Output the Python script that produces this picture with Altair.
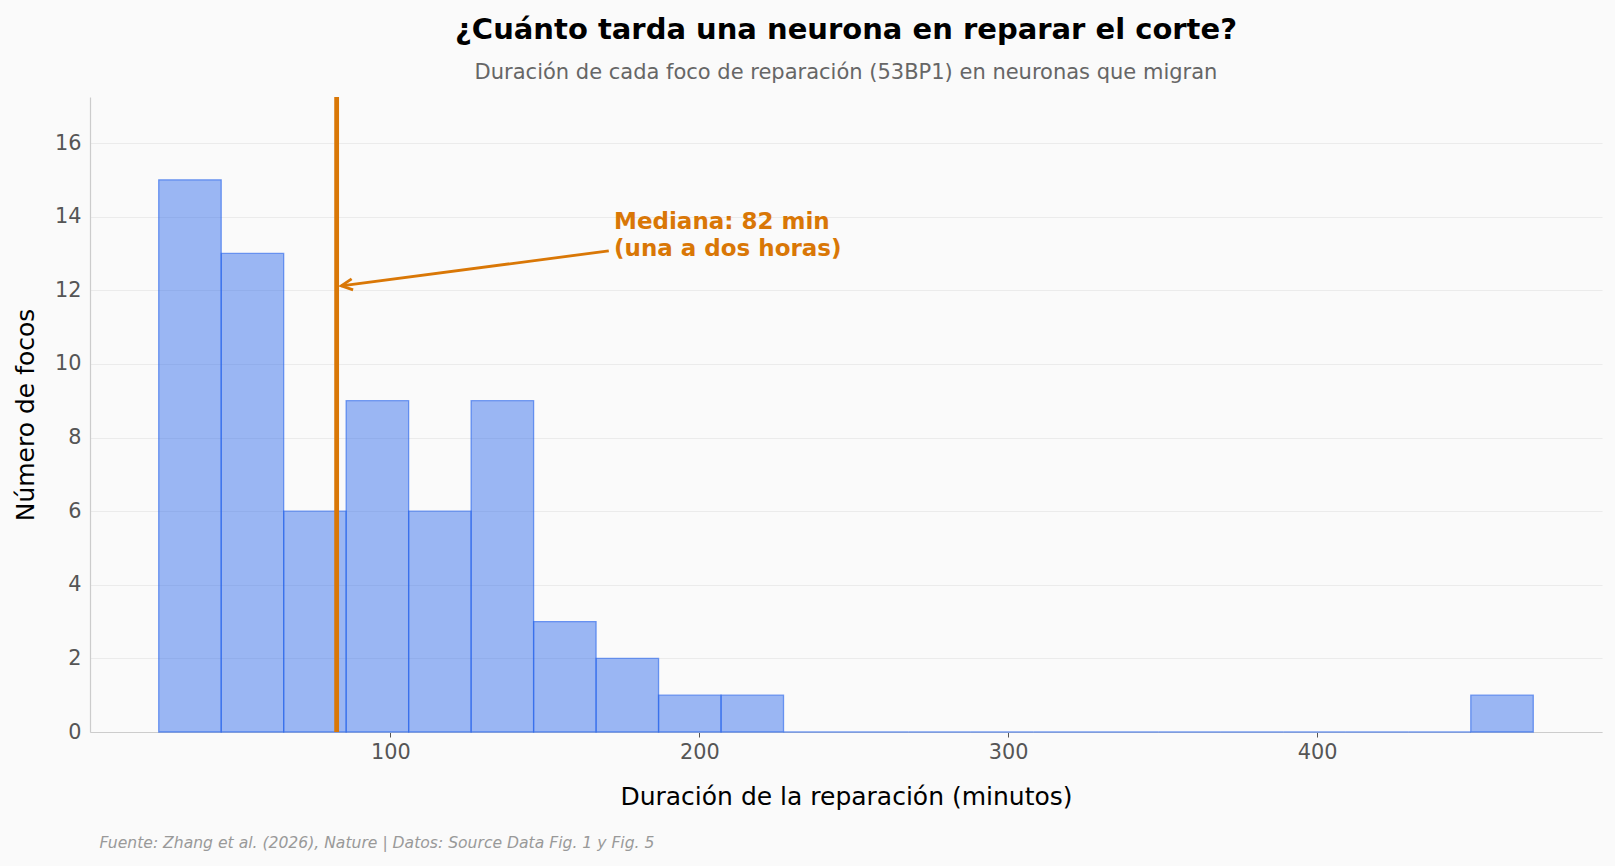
import altair as alt
import pandas as pd

# ---- data ----
bin_lo = 25.0
bin_hi = 470.0
n_bins = 22
counts = [15, 13, 6, 9, 6, 9, 3, 2, 1, 1, 0, 0, 0, 0, 0, 0, 0, 0, 0, 0, 0, 1]
median_value = 82.6
median_label = ["Mediana: 82 min", "(una a dos horas)"]
arrow_start = (170.7, 13.07)
arrow_tip = (84.1, 12.12)
label_pos = (172.4, 13.85)
x_ticks = [100, 200, 300, 400]
y_ticks = [0, 2, 4, 6, 8, 10, 12, 14, 16]
x_domain = [2.75, 492.25]
y_domain = [0, 17.25]

width_bin = (bin_hi - bin_lo) / n_bins
bars = pd.DataFrame({
    "start": [bin_lo + i * width_bin for i in range(n_bins)],
    "end": [bin_lo + (i + 1) * width_bin for i in range(n_bins)],
    "count": counts,
    "zero": [0] * n_bins,
})

FONT = "DejaVu Sans"
ORANGE = "#D97706"
BLUE = "#2563EB"

xs = alt.Scale(domain=x_domain, nice=False, zero=False)
ys = alt.Scale(domain=y_domain, nice=False)

base_bars = alt.Chart(bars).mark_rect(
    fill=BLUE, fillOpacity=0.45, stroke=BLUE, strokeOpacity=0.6, strokeWidth=1.3
).encode(
    x=alt.X("start:Q", scale=xs,
            axis=alt.Axis(values=x_ticks, title="Duración de la reparación (minutos)",
                          grid=False, tickSize=5, tickColor="#555555", labelPadding=5,
                          titlePadding=23)),
    x2="end:Q",
    y=alt.Y("count:Q", scale=ys,
            axis=alt.Axis(values=y_ticks, title="Número de focos", grid=True,
                          ticks=False, labelPadding=9, titlePadding=16)),
    y2="zero:Q",
)

med = alt.Chart(pd.DataFrame({"m": [median_value]})).mark_rule(
    color=ORANGE, strokeWidth=4.8
).encode(x=alt.X("m:Q", scale=xs))

arrow_df = pd.DataFrame({
    "x": [arrow_start[0]], "y": [arrow_start[1]],
    "x2": [arrow_tip[0]], "y2": [arrow_tip[1]],
})
arrow_line = alt.Chart(arrow_df).mark_rule(color=ORANGE, strokeWidth=2.8).encode(
    x=alt.X("x:Q", scale=xs), y=alt.Y("y:Q", scale=ys),
    x2="x2:Q", y2="y2:Q",
)
arrow_head = alt.Chart(arrow_df).mark_point(
    shape="M -1 -0.5 L 0 0 L -1 0.5", filled=False, stroke=ORANGE,
    strokeWidth=2.8, size=500, angle=172.5, opacity=1,
).encode(x=alt.X("x2:Q", scale=xs), y=alt.Y("y2:Q", scale=ys))

label_df = pd.DataFrame({"x": [label_pos[0]], "y": [label_pos[1]],
                         "t": ["\n".join(median_label)]})
label = alt.Chart(label_df).mark_text(
    align="left", baseline="middle", font=FONT, fontSize=23, fontWeight="bold",
    color=ORANGE, lineBreak="\n", lineHeight=27,
).encode(x=alt.X("x:Q", scale=xs), y=alt.Y("y:Q", scale=ys), text="t:N")

footer = alt.Chart(pd.DataFrame({"t": ["Fuente: Zhang et al. (2026), Nature | Datos: Source Data Fig. 1 y Fig. 5"]})).mark_text(
    align="left", baseline="middle", font=FONT, fontSize=15.6, fontStyle="italic",
    color="#999999",
).encode(x=alt.value(9.5), y=alt.value(746), text="t:N")

chart = alt.layer(base_bars, med, arrow_line, arrow_head, label, footer).properties(
    width=1512, height=635,
    autosize=alt.AutoSizeParams(type="none"),
    padding={"left": 90, "top": 97, "right": 13, "bottom": 134},
    background="#FAFAFA",
    title=alt.TitleParams(
        text="¿Cuánto tarda una neurona en reparar el corte?",
        subtitle="Duración de cada foco de reparación (53BP1) en neuronas que migran",
        font=FONT, fontSize=29, fontWeight="bold", color="#000000",
        subtitleFont=FONT, subtitleFontSize=21, subtitleColor="#666666",
        subtitlePadding=17, anchor="middle", offset=12,
    ),
).configure_view(stroke=None).configure_axis(
    labelFont=FONT, titleFont=FONT, labelFontSize=20.8, titleFontSize=25,
    labelColor="#555555", titleColor="#000000", titleFontWeight="normal",
    domainColor="#CCCCCC", domainWidth=1.2, gridColor="#EBEBEB", gridWidth=1,
)

chart.save("out.html", embed_options={"renderer": "svg", "actions": False})
